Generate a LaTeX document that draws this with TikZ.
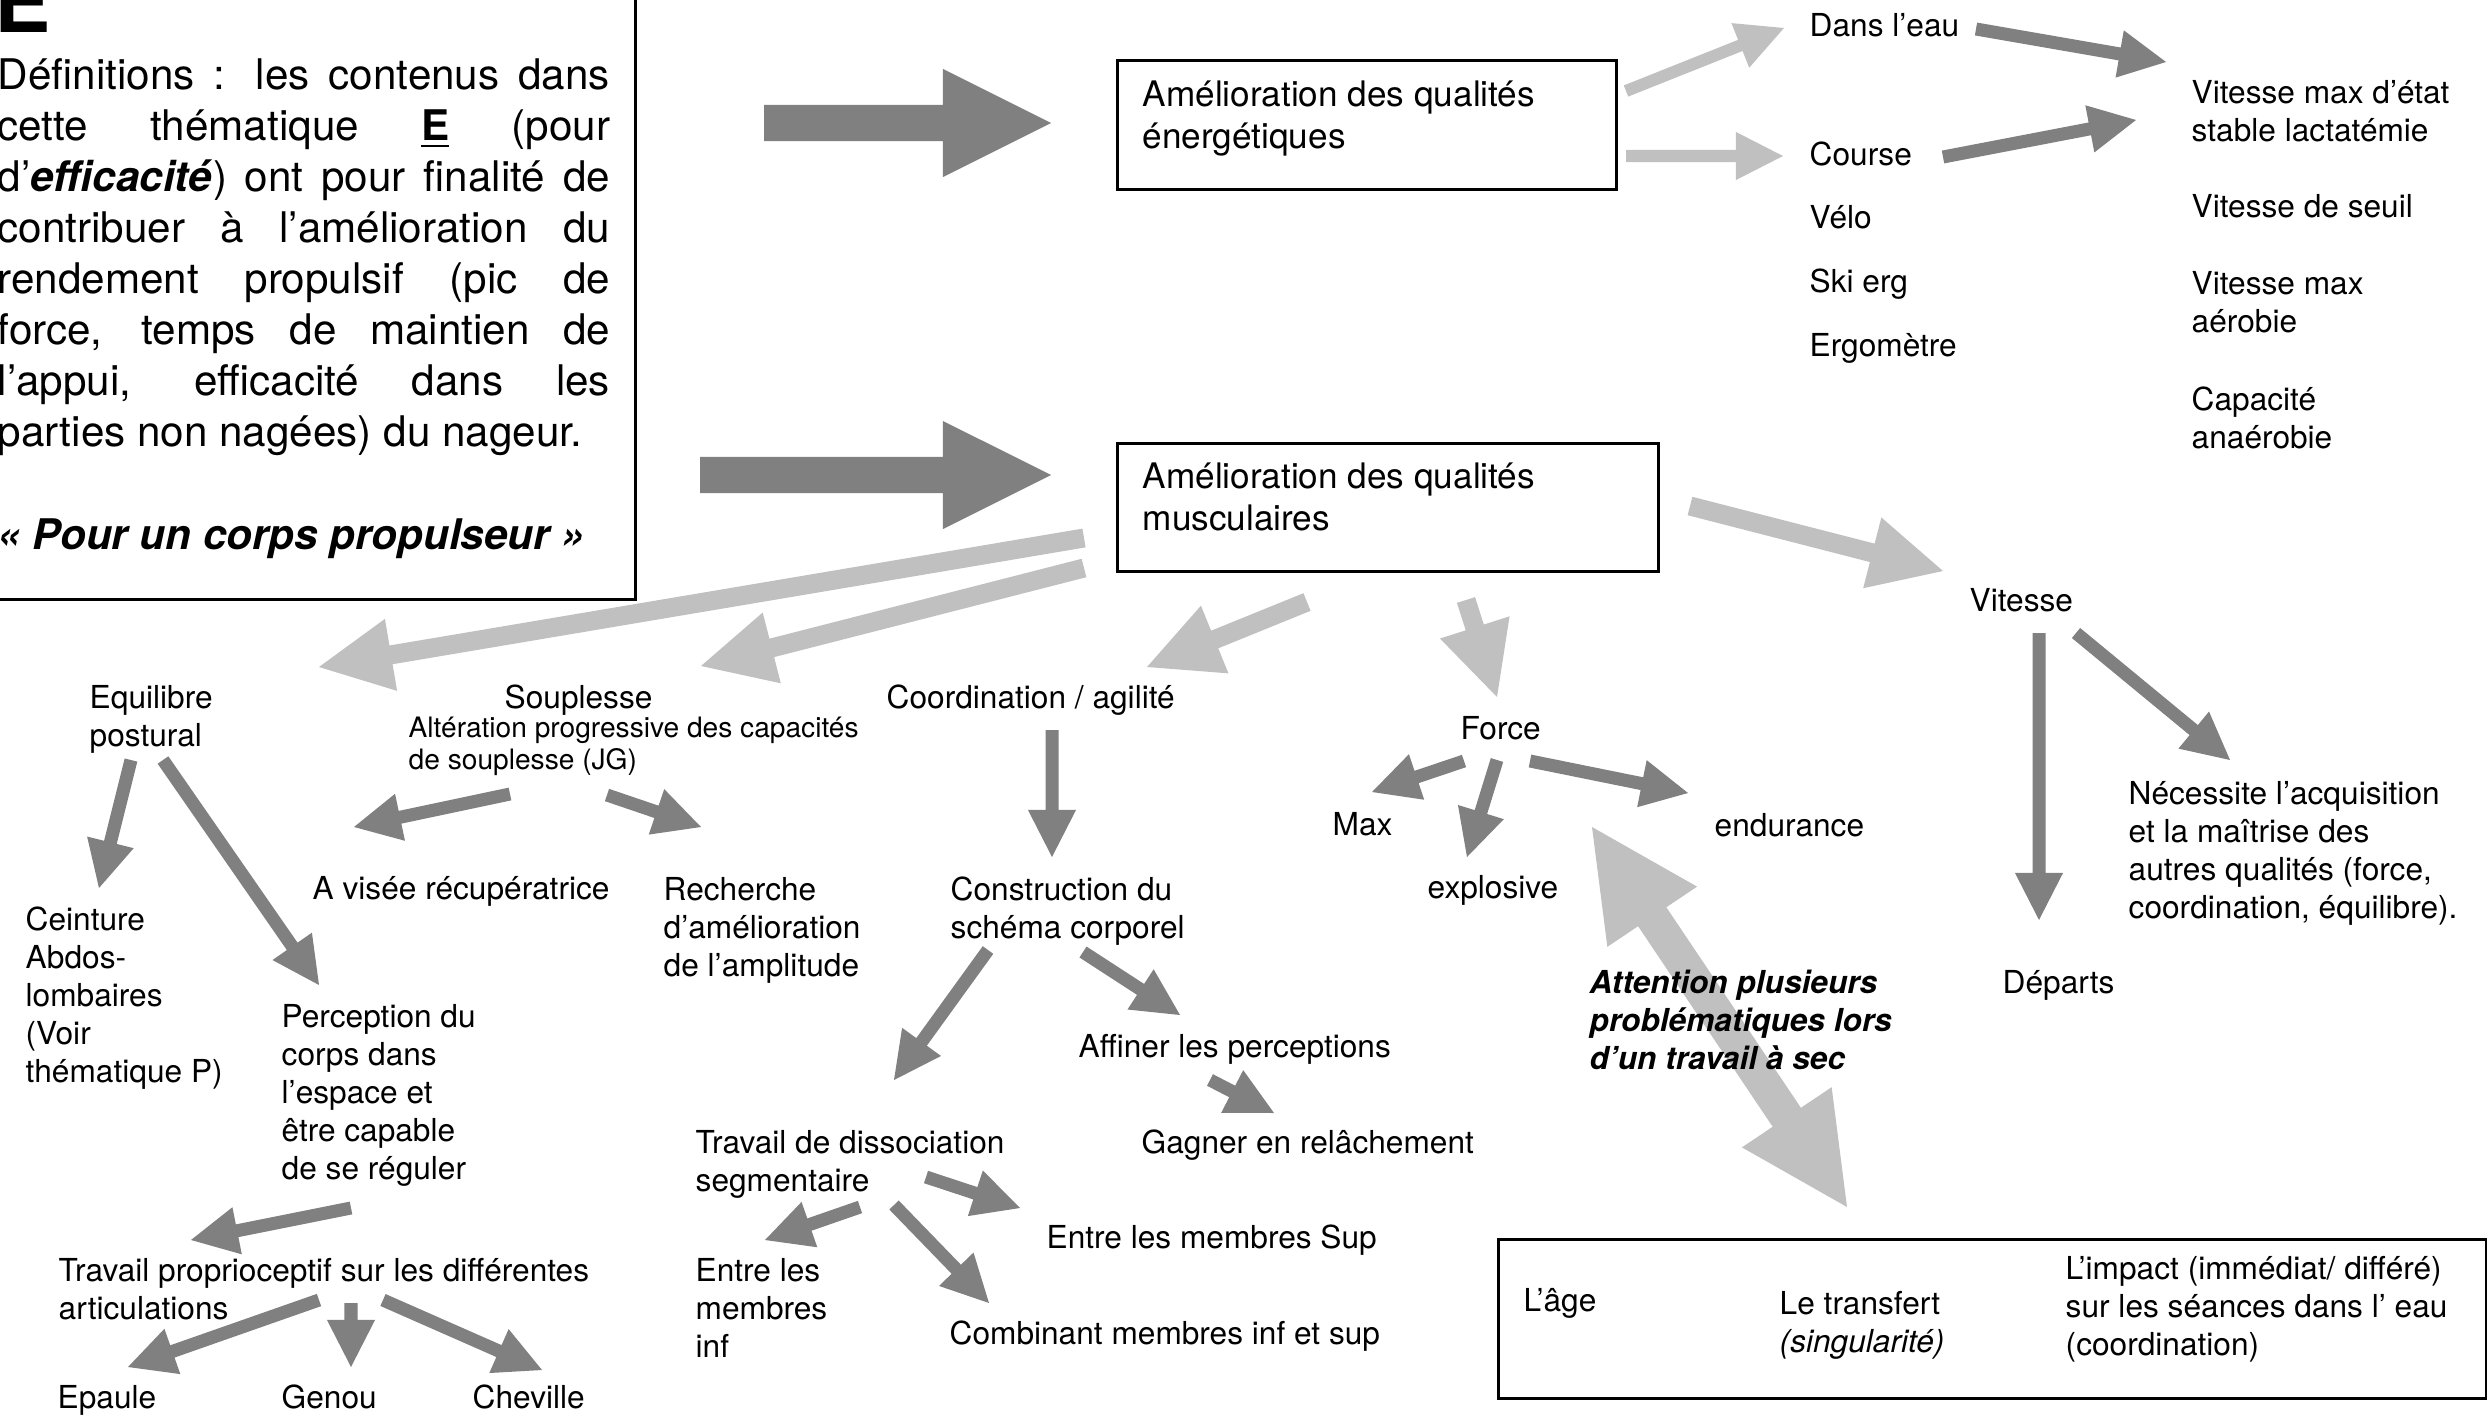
\documentclass[tikz,border=0pt]{standalone}
\usepackage{fontspec}
\setmainfont{TeX Gyre Heros}
\usetikzlibrary{calc}
\definecolor{arrdark}{HTML}{808080}
\definecolor{arrlight}{HTML}{C0C0C0}
\tikzset{
  lbl/.style={anchor=base west, inner sep=0pt, align=left, font=\fontsize{9}{10.8}\selectfont},
  boxlbl/.style={lbl, font=\fontsize{10}{11.7}\selectfont},
  smalllbl/.style={lbl, font=\fontsize{8}{9.1}\selectfont},
  warnlbl/.style={lbl, font=\fontsize{9}{10.8}\selectfont\bfseries\itshape},
  deftxt/.style={anchor=base west, inner sep=0pt, text width=6.12cm, align=justify, font=\fontsize{12}{14.5}\selectfont},
  frame/.style={draw=black, line width=0.9pt, inner sep=0pt},
  darkfill/.style={fill=arrdark},
  lightfill/.style={fill=arrlight},
}
% #1 style, #2 start, #3 tip, #4 half shaft, #5 half head, #6 head length
\newcommand\blockarrow[6]{%
  \path ($(#3)!#6!(#2)$) coordinate (hb);
  \fill[#1] ($(#2)!#4!90:(#3)$) -- ($(hb)!#4!90:(#3)$) -- ($(hb)!#5!90:(#3)$) -- (#3)
    -- ($(hb)!#5!-90:(#3)$) -- ($(hb)!#4!-90:(#3)$) -- ($(#2)!#4!-90:(#3)$) -- cycle;}
\newcommand\arrDS[2]{\blockarrow{darkfill}{#1}{#2}{0.065cm}{0.24cm}{0.47cm}}
\newcommand\arrLS[2]{\blockarrow{lightfill}{#1}{#2}{0.06cm}{0.24cm}{0.47cm}}
\newcommand\arrLB[2]{\blockarrow{lightfill}{#1}{#2}{0.095cm}{0.365cm}{0.73cm}}
\newcommand\arrDB[2]{\blockarrow{darkfill}{#1}{#2}{0.18cm}{0.54cm}{1.08cm}}
\begin{document}
\begin{tikzpicture}[x=0.01cm, y=-0.01cm]
\useasboundingbox (0,0) rectangle (2487,1424);
\clip (0,0) rectangle (2487,1424);

% ---------- arrow end points ----------
\coordinate (bigAs) at (764,123);  \coordinate (bigAt) at (1051,123);
\coordinate (bigBs) at (700,475);  \coordinate (bigBt) at (1051,475);
\coordinate (e2dS) at (1626,91);   \coordinate (e2dT) at (1784,28);
\coordinate (e2cS) at (1626,156);  \coordinate (e2cT) at (1783,156);
\coordinate (d2vS) at (1976,29);   \coordinate (d2vT) at (2166,62);
\coordinate (c2vS) at (1943,157);  \coordinate (c2vT) at (2136,120);
\coordinate (m2eqS) at (1084,538); \coordinate (m2eqT) at (319,667);
\coordinate (m2soS) at (1084,568); \coordinate (m2soT) at (701,666);
\coordinate (m2coS) at (1307,602); \coordinate (m2coT) at (1147,667);
\coordinate (m2foS) at (1466,600); \coordinate (m2foT) at (1497,697);
\coordinate (m2viS) at (1690,506); \coordinate (m2viT) at (1943,571);
\coordinate (eq2ceS) at (131,760); \coordinate (eq2ceT) at (99,888);
\coordinate (eq2peS) at (163,760); \coordinate (eq2peT) at (319,985);
\coordinate (so2avS) at (510,794); \coordinate (so2avT) at (354,827);
\coordinate (so2reS) at (607,795); \coordinate (so2reT) at (701,827);
\coordinate (co2cnS) at (1052,730); \coordinate (co2cnT) at (1052,857);
\coordinate (cn2diS) at (988,950); \coordinate (cn2diT) at (894,1080);
\coordinate (cn2afS) at (1083,952); \coordinate (cn2afT) at (1180,1015);
\coordinate (af2gaS) at (1210,1080); \coordinate (af2gaT) at (1274,1113);
\coordinate (di2inS) at (860,1207); \coordinate (di2inT) at (765,1240);
\coordinate (di2suS) at (926,1177); \coordinate (di2suT) at (1020,1208);
\coordinate (di2coS) at (894,1205); \coordinate (di2coT) at (989,1303);
\coordinate (pe2prS) at (351,1208); \coordinate (pe2prT) at (191,1240);
\coordinate (pr2epS) at (319,1300); \coordinate (pr2epT) at (128,1367);
\coordinate (pr2geS) at (351,1303); \coordinate (pr2geT) at (351,1367);
\coordinate (pr2chS) at (383,1300); \coordinate (pr2chT) at (542,1370);
\coordinate (fo2maS) at (1464,761); \coordinate (fo2maT) at (1372,792);
\coordinate (fo2exS) at (1497,760); \coordinate (fo2exT) at (1467,857);
\coordinate (fo2enS) at (1530,761); \coordinate (fo2enT) at (1688,793);
\coordinate (vi2deS) at (2039,633); \coordinate (vi2deT) at (2039,920);
\coordinate (vi2neS) at (2076,633); \coordinate (vi2neT) at (2230,760);
\coordinate (dblA) at (1592,827);  \coordinate (dblB) at (1847,1207);

% ---------- arrows ----------
\arrDB{bigAs}{bigAt}
\arrDB{bigBs}{bigBt}
\arrLS{e2dS}{e2dT}
\arrLS{e2cS}{e2cT}
\arrDS{d2vS}{d2vT}
\arrDS{c2vS}{c2vT}
\arrLB{m2eqS}{m2eqT}
\arrLB{m2soS}{m2soT}
\arrLB{m2coS}{m2coT}
\arrLB{m2foS}{m2foT}
\arrLB{m2viS}{m2viT}
\arrDS{eq2ceS}{eq2ceT}
\arrDS{eq2peS}{eq2peT}
\arrDS{so2avS}{so2avT}
\arrDS{so2reS}{so2reT}
\arrDS{co2cnS}{co2cnT}
\arrDS{cn2diS}{cn2diT}
\arrDS{cn2afS}{cn2afT}
\arrDS{af2gaS}{af2gaT}
\arrDS{di2inS}{di2inT}
\arrDS{di2suS}{di2suT}
\arrDS{di2coS}{di2coT}
\arrDS{pe2prS}{pe2prT}
\arrDS{pr2epS}{pr2epT}
\arrDS{pr2geS}{pr2geT}
\arrDS{pr2chS}{pr2chT}
\arrDS{fo2maS}{fo2maT}
\arrDS{fo2exS}{fo2exT}
\arrDS{fo2enS}{fo2enT}
\arrDS{vi2deS}{vi2deT}
\arrDS{vi2neS}{vi2neT}
% double-headed arrow
\path ($(dblA)!1.08cm!(dblB)$) coordinate (dh1) ($(dblB)!1.08cm!(dblA)$) coordinate (dh2);
\fill[lightfill] (dblA) -- ($(dh1)!0.54cm!90:(dblB)$) -- ($(dh1)!0.17cm!90:(dblB)$)
  -- ($(dh2)!0.17cm!90:(dblB)$) -- ($(dh2)!0.54cm!90:(dblB)$) -- (dblB)
  -- ($(dh2)!0.54cm!-90:(dblB)$) -- ($(dh2)!0.17cm!-90:(dblB)$)
  -- ($(dh1)!0.17cm!-90:(dblB)$) -- ($(dh1)!0.54cm!-90:(dblB)$) -- cycle;

% ---------- definition box ----------
\node[frame, anchor=south east, minimum width=7cm, minimum height=7cm] (defbox) at (637,601) {};
\node[lbl, font=\fontsize{24}{28}\selectfont\bfseries] (bigE) at (-6,32) {E};
\node[deftxt] (deftext) at (-3,90) {Définitions : les contenus dans\linebreak
cette thématique \underline{\textbf{E}} (pour\linebreak
d’\textbf{\textit{efficacité}}) ont pour finalité de\linebreak
contribuer à l’amélioration du\linebreak
rendement propulsif (pic de\linebreak
force, temps de maintien de\linebreak
l’appui, efficacité dans les\linebreak
parties non nagées) du nageur.};
\node[lbl, font=\fontsize{12}{14.5}\selectfont\bfseries\itshape] (slogan) at (-3,549) {« Pour un corps propulseur »};

% ---------- boxes ----------
\node[frame, anchor=north west, minimum width=4.99cm, minimum height=1.29cm] (ener) at (1116,59) {};
\node[boxlbl] (enertxt) at (1142,148) {Amélioration des qualités\\énergétiques};
\node[frame, anchor=north west, minimum width=5.41cm, minimum height=1.28cm] (musc) at (1116,442) {};
\node[boxlbl] (musctxt) at (1142,530) {Amélioration des qualités\\musculaires};
\node[frame, anchor=north west, minimum width=9.87cm, minimum height=1.59cm] (probbox) at (1497,1238) {};

% ---------- labels (multi-line nodes are placed by their last baseline) ----------
\node[lbl] (dansleau) at (1809,37) {Dans l’eau};
\node[lbl] (course) at (1809,165) {Course};
\node[lbl] (velo) at (1809,228) {Vélo};
\node[lbl] (skierg) at (1809,292) {Ski erg};
\node[lbl] (ergo) at (1809,356) {Ergomètre};
\node[lbl] (vmaxetat) at (2191,141) {Vitesse max d’état\\stable lactatémie};
\node[lbl] (vseuil) at (2191,217) {Vitesse de seuil};
\node[lbl] (vma) at (2191,332) {Vitesse max\\aérobie};
\node[lbl] (capana) at (2191,448) {Capacité\\anaérobie};

\node[lbl] (equil) at (89,746) {Equilibre\\postural};
\node[lbl] (soup) at (504,708) {Souplesse};
\node[smalllbl] (alter) at (408,769) {Altération progressive des capacités\\de souplesse (JG)};
\node[lbl] (coord) at (886,708) {Coordination / agilité};
\node[lbl] (force) at (1460,739) {Force};
\node[lbl] (vitesse) at (1969,611) {Vitesse};
\node[lbl] (max) at (1332,835) {Max};
\node[lbl] (explo) at (1427,898) {explosive};
\node[lbl] (endu) at (1714,836) {endurance};
\node[lbl] (necess) at (2128,918) {Nécessite l’acquisition\\et la maîtrise des\\autres qualités (force,\\coordination, équilibre).};
\node[lbl] (departs) at (2002,993) {Départs};
\node[warnlbl] (attn) at (1589,1069) {Attention plusieurs\\problématiques lors\\d’un travail à sec};

\node[lbl] (avisee) at (312,899) {A visée récupératrice};
\node[lbl] (recherche) at (663,976) {Recherche\\d’amélioration\\de l’amplitude};
\node[lbl] (ceinture) at (25,1082) {Ceinture\\Abdos-\\lombaires\\(Voir\\thématique P)};
\node[lbl] (percep) at (281,1179) {Perception du\\corps dans\\l’espace et\\être capable\\de se réguler};
\node[lbl] (proprio) at (58,1319) {Travail proprioceptif sur les différentes\\articulations};
\node[lbl] (epaule) at (57,1408) {Epaule};
\node[lbl] (genou) at (281,1408) {Genou};
\node[lbl] (cheville) at (472,1408) {Cheville};

\node[lbl] (constr) at (950,938) {Construction du\\schéma corporel};
\node[lbl] (affiner) at (1078,1057) {Affiner les perceptions};
\node[lbl] (gagner) at (1141,1153) {Gagner en relâchement};
\node[lbl] (dissoc) at (695,1191) {Travail de dissociation\\segmentaire};
\node[lbl] (entresup) at (1046,1248) {Entre les membres Sup};
\node[lbl] (entreinf) at (695,1357) {Entre les\\membres\\inf};
\node[lbl] (combin) at (949,1344) {Combinant membres inf et sup};

\node[lbl] (age) at (1523,1311) {L’âge};
\node[lbl] (transf) at (1779,1352) {Le transfert\\\textit{(singularité)}};
\node[lbl] (impact) at (2065,1355) {L’impact (immédiat/ différé)\\sur les séances dans l’ eau\\(coordination)};
\end{tikzpicture}
\end{document}
